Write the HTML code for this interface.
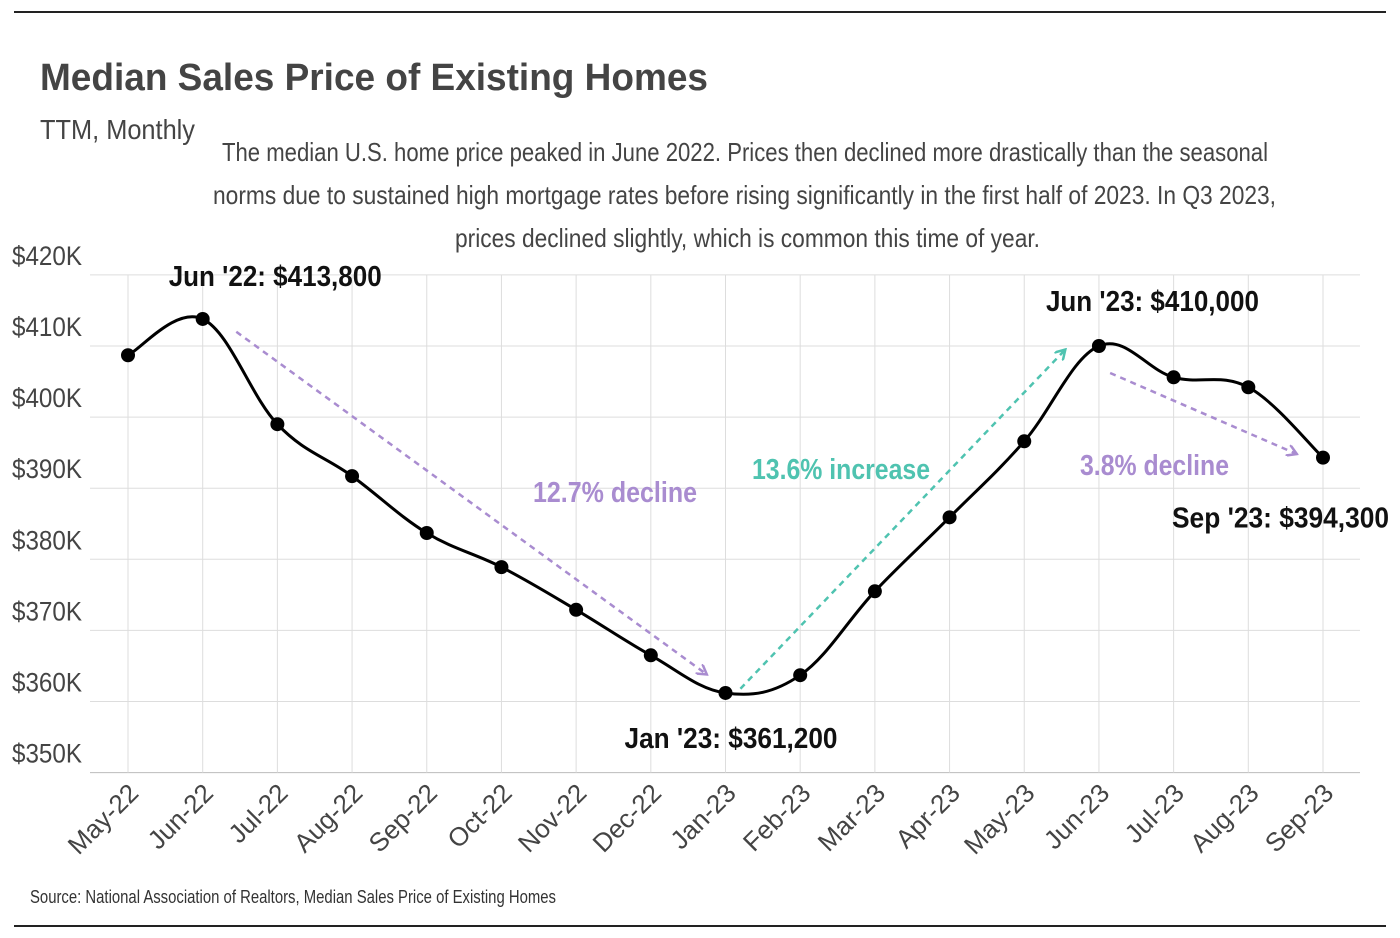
<!DOCTYPE html>
<html><head><meta charset="utf-8">
<style>
body{margin:0;background:#fff;}
svg{display:block;font-family:"Liberation Sans Narrow","Liberation Sans",sans-serif;}
</style></head>
<body>
<svg id="chart" width="1400" height="938" viewBox="0 0 1400 938">
<line x1="14" y1="12" x2="1386" y2="12" stroke="#222" stroke-width="2"/>
<line x1="14" y1="926" x2="1386" y2="926" stroke="#222" stroke-width="2"/>
<text x="40" y="90" font-size="38" font-weight="bold" fill="#444" font-family="Liberation Sans, sans-serif" textLength="668" lengthAdjust="spacingAndGlyphs">Median Sales Price of Existing Homes</text>
<text x="40" y="139" font-size="28" fill="#444" textLength="155" lengthAdjust="spacingAndGlyphs">TTM, Monthly</text>
<g font-size="26" fill="#444">
<text x="222" y="161" textLength="1046" lengthAdjust="spacingAndGlyphs">The median U.S. home price peaked in June 2022. Prices then declined more drastically than the seasonal</text>
<text x="213" y="204" textLength="1063" lengthAdjust="spacingAndGlyphs">norms due to sustained high mortgage rates before rising significantly in the first half of 2023. In Q3 2023,</text>
<text x="455" y="247" textLength="585" lengthAdjust="spacingAndGlyphs">prices declined slightly, which is common this time of year.</text>
</g>
<g id="grid"></g>
<g id="axes"></g>
<g id="arrows"></g>
<g id="series"></g>
<g id="labels"></g>
<text x="30" y="903" font-size="18" fill="#333" textLength="526" lengthAdjust="spacingAndGlyphs">Source:  National Association of Realtors, Median Sales Price of Existing Homes</text>
</svg>
<script>
const categories=["May-22","Jun-22","Jul-22","Aug-22","Sep-22","Oct-22","Nov-22","Dec-22","Jan-23","Feb-23","Mar-23","Apr-23","May-23","Jun-23","Jul-23","Aug-23","Sep-23"];
const prices=[408.7,413.8,399.0,391.7,383.7,378.9,372.9,366.5,361.2,363.7,375.5,385.9,396.6,410.0,405.6,404.2,394.3];
const yTicks=[350,360,370,380,390,400,410,420];
const yTickLabels=["$350K","$360K","$370K","$380K","$390K","$400K","$410K","$420K"];

const NS="http://www.w3.org/2000/svg";
const x0=128,x1=1323,yBase=772.6,yPer=7.11;
function xs(i){return x0+(x1-x0)*i/(categories.length-1);}
function ys(v){return yBase-(v-350)*yPer;}
function mk(tag,attrs,parent,text){const e=document.createElementNS(NS,tag);for(const k in attrs)e.setAttribute(k,attrs[k]);if(text!==undefined)e.textContent=text;parent.appendChild(e);return e;}
const grid=document.getElementById('grid'),axes=document.getElementById('axes'),series=document.getElementById('series'),labels=document.getElementById('labels'),arrows=document.getElementById('arrows');

yTicks.forEach((t,i)=>{
  const l=mk('line',{x1:90,x2:1360,y1:ys(t),y2:ys(t),stroke:t===350?'#bbb':'#ddd','stroke-width':1},grid);
  
  
  const tx=mk('text',{x:12,y:ys(t)-10,'font-size':27,fill:'#444',textLength:70,lengthAdjust:'spacingAndGlyphs'},axes,yTickLabels[i]);
  
  
});
categories.forEach((c,i)=>{
  const l=mk('line',{x1:xs(i),x2:xs(i),y1:ys(420),y2:ys(350),stroke:'#ddd','stroke-width':1},grid);
  
  
  const tx=mk('text',{x:xs(i)+12,y:ys(350)+22,'font-size':26,fill:'#444','text-anchor':'end',transform:`rotate(-45 ${xs(i)+12} ${ys(350)+22})`},axes,c);
  
  
});

const pts=prices.map((v,i)=>[xs(i),ys(v)]);
let d=`M${pts[0][0]},${pts[0][1]}`;
for(let i=0;i<pts.length-1;i++){
  const p0=pts[Math.max(0,i-1)],p1=pts[i],p2=pts[i+1],p3=pts[Math.min(pts.length-1,i+2)];
  const t=0.18;
  const c1=[p1[0]+(p2[0]-p0[0])*t,p1[1]+(p2[1]-p0[1])*t];
  const c2=[p2[0]-(p3[0]-p1[0])*t,p2[1]-(p3[1]-p1[1])*t];
  d+=` C${c1[0]},${c1[1]} ${c2[0]},${c2[1]} ${p2[0]},${p2[1]}`;
}
const line=mk('path',{d:d,fill:'none',stroke:'#000','stroke-width':3},series);


pts.forEach(p=>{
  const c=mk('circle',{cx:p[0],cy:p[1],r:7,fill:'#000'},series);
  
  
});

function lab(i,text,dx,dy,w){
  const t=mk('text',{x:xs(i)+dx,y:ys(prices[i])+dy,'font-size':29,'font-weight':'bold',fill:'#111',textLength:w,lengthAdjust:'spacingAndGlyphs'},labels,text);
  
  
}
function fmt(v){return '$'+Math.round(v*1000).toLocaleString('en-US');}
lab(1,"Jun '22: "+fmt(prices[1]),-34,-33,213);
lab(8,"Jan '23: "+fmt(prices[8]),-101,55,213);
lab(13,"Jun '23: "+fmt(prices[13]),-53,-35,213);
lab(16,"Sep '23: "+fmt(prices[16]),-151,70,217);

const defs=mk('defs',{},arrows);
function marker(id,col){const m=mk('marker',{id:id,markerWidth:12,markerHeight:12,refX:10,refY:6,orient:'auto',markerUnits:'userSpaceOnUse'},defs);mk('path',{d:'M0,0 L10,6 L0,12',fill:'none',stroke:col,'stroke-width':2.5},m);}
marker('mp','#a98cd0');marker('mt','#4fc3b0');
function arrow(i1,v1,i2,v2,col,mid,text,tx,ty,w,name){
  const a=mk('line',{x1:xs(i1),y1:ys(v1),x2:xs(i2),y2:ys(v2),stroke:col,'stroke-width':2.5,'stroke-dasharray':'6,5','marker-end':`url(#${mid})`},arrows);
  
  
  const t=mk('text',{x:tx,y:ty,'font-size':29,'font-weight':'bold',fill:col,textLength:w,lengthAdjust:'spacingAndGlyphs'},arrows,text);
  
  
}
arrow(1.45,412,7.75,363.8,'#a98cd0','mp','12.7% decline',533,502,164,'decline-2022');
arrow(8.2,361.8,12.55,409.5,'#4fc3b0','mt','13.6% increase',752,479,178,'increase-2023');
arrow(13.15,406.2,15.65,394.8,'#a98cd0','mp','3.8% decline',1080,475,149,'decline-2023');
</script>
</body></html>
